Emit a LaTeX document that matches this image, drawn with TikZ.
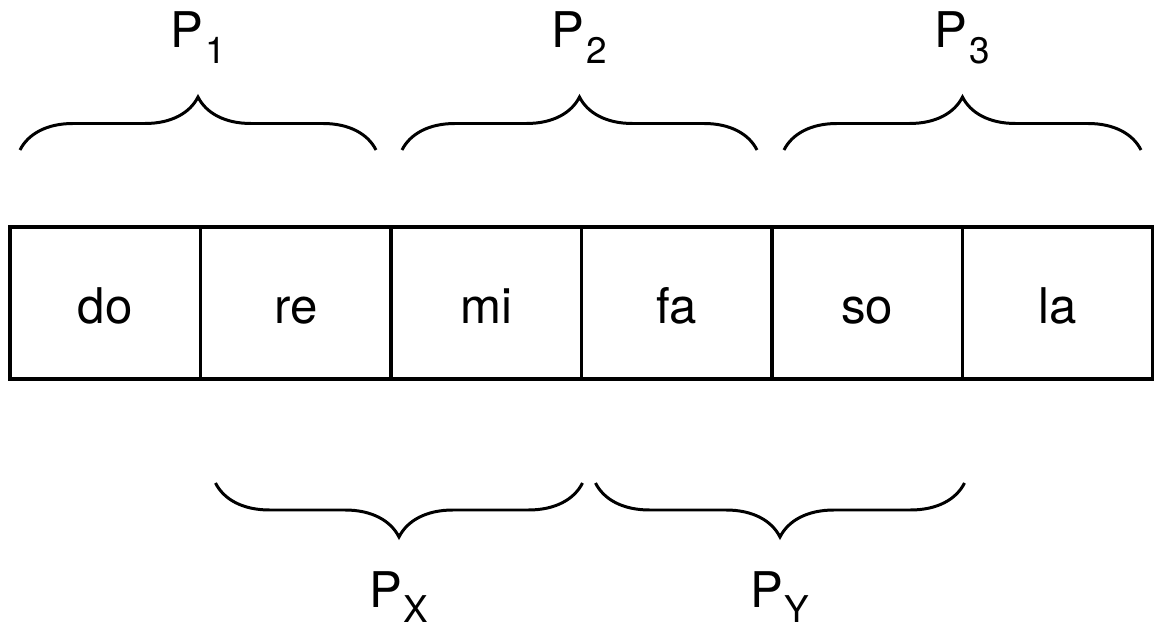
\documentclass[tikz,border=0pt]{standalone}
\usepackage{fontspec}
\setmainfont{TeX Gyre Heros}
\usetikzlibrary{positioning,decorations.pathreplacing}
\newcommand{\psub}[1]{\kern0.5pt\raisebox{-4.3pt}{\fontsize{10.5pt}{12pt}\selectfont #1}}

\begin{document}
\begin{tikzpicture}[
  cell/.style={draw,line width=0.9pt,minimum width=1.905cm,minimum height=1.52cm,
    outer sep=0pt,inner sep=0pt,text height=11.4pt,text depth=0pt,
    font=\fontsize{14pt}{16pt}\selectfont},
  brc/.style={decorate,decoration={brace,amplitude=0.53cm},line width=0.85pt},
  lowbrc/.style={decorate,decoration={brace,mirror,amplitude=0.54cm},line width=0.85pt},
  plabel/.style={anchor=base,font=\fontsize{14pt}{16pt}\selectfont}
]
  \useasboundingbox (0,0) rectangle (11.54,6.29);
  % Cells
  \node[cell] (do) at (1.0525,3.26) {do};
  \node[cell,right=0cm of do] (re) {re};
  \node[cell,right=0cm of re] (mi) {mi};
  \node[cell,right=0cm of mi] (fa) {fa};
  \node[cell,right=0cm of fa] (so) {so};
  \node[cell,right=0cm of so] (la) {la};
  % Top braces
  \draw[brc] ([shift={(0.10,0.77)}]do.north west) --
    node[plabel,yshift=1.02cm] (p1) {P\psub{1}} ([shift={(-0.15,0.77)}]re.north east);
  \draw[brc] ([shift={(0.11,0.77)}]mi.north west) --
    node[plabel,yshift=1.02cm] (p2) {P\psub{2}} ([shift={(-0.15,0.77)}]fa.north east);
  \draw[brc] ([shift={(0.12,0.77)}]so.north west) --
    node[plabel,yshift=1.02cm] (p3) {P\psub{3}} ([shift={(-0.12,0.77)}]la.north east);
  % Bottom braces
  \draw[lowbrc] ([shift={(0.15,-1.04)}]re.south west) --
    node[plabel,yshift=-1.24cm] (px) {P\psub{X}} ([shift={(0.01,-1.04)}]mi.south east);
  \draw[lowbrc] ([shift={(0.14,-1.04)}]fa.south west) --
    node[plabel,yshift=-1.24cm] (py) {P\psub{Y}} ([shift={(0.02,-1.04)}]so.south east);
\end{tikzpicture}
\end{document}
